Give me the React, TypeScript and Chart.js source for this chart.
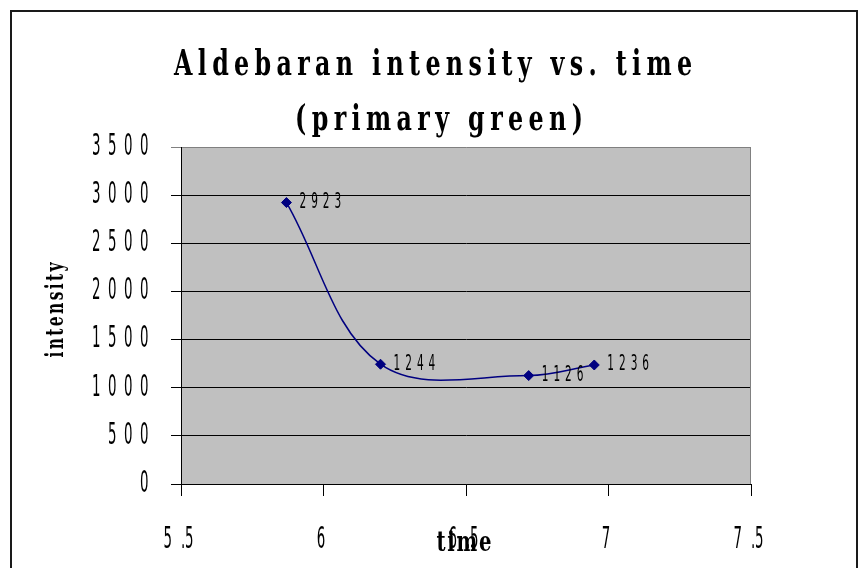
import React, { useEffect, useRef } from 'react';
import { Chart, registerables } from 'chart.js';

Chart.register(...registerables);

// ---- data ----
const timeValues: number[] = [5.87, 6.2, 6.72, 6.95];
const intensityValues: number[] = [2923, 1244, 1126, 1236];
const xTickValues: number[] = [5.5, 6, 6.5, 7, 7.5];
const yTickValues: number[] = [0, 500, 1000, 1500, 2000, 2500, 3000, 3500];
const titleLines: string[] = ['Aldebaran intensity vs. time', '(primary green)'];
const xAxisTitle = 'time';
const yAxisTitle = 'intensity';

const NARROW = '"Liberation Sans Narrow", "DejaVu Sans Condensed", "Liberation Sans", sans-serif';
const SLAB = '"DejaVu Serif", "Liberation Serif", serif';

// draws text char by char, each glyph squeezed by sx, spread to fill targetWidth, centred on x
function drawSpread(
  ctx: CanvasRenderingContext2D,
  text: string,
  x: number,
  y: number,
  font: string,
  sx: number,
  targetWidth: number,
  rotate = 0
) {
  ctx.save();
  ctx.font = font;
  ctx.textAlign = 'left';
  ctx.textBaseline = 'alphabetic';
  ctx.fillStyle = '#000';
  const chars = Array.from(text);
  const widths = chars.map((c) => ctx.measureText(c).width * sx);
  const sum = widths.reduce((a, b) => a + b, 0);
  const gap = chars.length > 1 ? Math.max(0, (targetWidth - sum) / (chars.length - 1)) : 0;
  const total = sum + gap * (chars.length - 1);
  ctx.translate(x, y);
  if (rotate) ctx.rotate(rotate);
  let cx = -total / 2;
  chars.forEach((c, i) => {
    ctx.save();
    ctx.translate(cx, 0);
    ctx.scale(sx, 1);
    ctx.fillText(c, 0, 0);
    ctx.restore();
    cx += widths[i] + gap;
  });
  ctx.restore();
}

function drawSpaced(
  ctx: CanvasRenderingContext2D,
  text: string,
  x: number,
  y: number,
  font: string,
  digitAdvance: number,
  spacing: number,
  align: 'left' | 'center' | 'right'
) {
  ctx.save();
  ctx.font = font;
  ctx.textAlign = 'left';
  ctx.textBaseline = 'middle';
  ctx.fillStyle = '#000';
  const sx = digitAdvance / ctx.measureText('0').width;
  const chars = Array.from(text);
  const widths = chars.map((c) => ctx.measureText(c).width * sx);
  const gaps = chars.map((c, i) => (i === chars.length - 1 ? 0 : c === '.' ? 0 : spacing));
  const total = widths.reduce((a, b) => a + b, 0) + gaps.reduce((a, b) => a + b, 0);
  let cx = align === 'left' ? x : align === 'center' ? x - total / 2 : x - total;
  chars.forEach((c, i) => {
    ctx.save();
    ctx.translate(cx, y);
    ctx.scale(sx, 1);
    ctx.fillText(c, 0, 0);
    ctx.restore();
    cx += widths[i] + gaps[i];
  });
  ctx.restore();
}

const decorPlugin = {
  id: 'decor',
  beforeDraw(chart: any) {
    const { ctx, chartArea: a } = chart;
    ctx.save();
    ctx.fillStyle = '#ffffff';
    ctx.fillRect(0, 0, chart.width, chart.height);
    ctx.fillStyle = '#C0C0C0';
    ctx.fillRect(a.left, a.top, a.right - a.left, a.bottom - a.top);
    ctx.restore();
  },
  beforeDatasetsDraw(chart: any) {
    const { ctx, chartArea: a } = chart;
    ctx.save();
    ctx.strokeStyle = '#808080';
    ctx.lineWidth = 1;
    ctx.beginPath();
    ctx.moveTo(Math.round(a.right) - 0.5, a.top);
    ctx.lineTo(Math.round(a.right) - 0.5, a.bottom);
    ctx.stroke();
    ctx.restore();
  },
  afterDraw(chart: any) {
    const { ctx } = chart;
    // outer chart border
    ctx.save();
    ctx.strokeStyle = '#1a1a1a';
    ctx.lineWidth = 2;
    ctx.strokeRect(11, 11, 846, 620);
    ctx.restore();

    // title
    drawSpread(ctx, titleLines[0], 433, 75, `bold 36px ${SLAB}`, 0.66, 518);
    drawSpread(ctx, titleLines[1], 439, 130, `bold 36px ${SLAB}`, 0.66, 288);

    // y tick labels
    const ys = chart.scales.y;
    ys.ticks.forEach((t: any) => {
      const py = ys.getPixelForValue(t.value);
      drawSpaced(ctx, String(t.value), 148.5, py, `30px ${NARROW}`, 8.5, 7.5, 'right');
    });
    // x tick labels
    const xs = chart.scales.x;
    xs.ticks.forEach((t: any) => {
      const px = xs.getPixelForValue(t.value);
      drawSpaced(ctx, String(t.value), px - 2.5, 540, `30px ${NARROW}`, 8.5, 9, 'center');
    });

    // axis titles
    drawSpread(ctx, yAxisTitle, 63, 310, `bold 25px ${SLAB}`, 0.62, 95, -Math.PI / 2);
    drawSpread(ctx, xAxisTitle, 464, 551, `bold 28px ${SLAB}`, 0.7, 55);

    // data labels
    const meta = chart.getDatasetMeta(0);
    meta.data.forEach((el: any, i: number) => {
      drawSpaced(ctx, String(intensityValues[i]), el.x + 13, el.y, `21px ${NARROW}`, 6.7, 5, 'left');
    });
  },
};

export default function App() {
  const canvasRef = useRef<HTMLCanvasElement | null>(null);

  useEffect(() => {
    const canvas = canvasRef.current;
    if (!canvas) return;
    const chart = new Chart(canvas, {
      type: 'scatter',
      data: {
        datasets: [
          {
            label: 'intensity',
            data: timeValues.map((t, i) => ({ x: t, y: intensityValues[i] })),
            showLine: true,
            borderColor: '#000080',
            backgroundColor: '#000080',
            borderWidth: 1.5,
            tension: 0.36,
            pointStyle: 'rectRot',
            pointRadius: 5,
            pointHoverRadius: 5,
            pointBackgroundColor: '#000080',
            pointBorderColor: '#000080',
            pointBorderWidth: 1,
          },
        ],
      },
      options: {
        responsive: false,
        animation: false,
        layout: { padding: { left: 0, top: 147, right: 110, bottom: 0 } },
        plugins: {
          legend: { display: false },
          tooltip: { enabled: false },
          title: { display: false },
        },
        scales: {
          x: {
            type: 'linear',
            min: xTickValues[0],
            max: xTickValues[xTickValues.length - 1],
            afterBuildTicks: (scale: any) => {
              scale.ticks = xTickValues.map((v) => ({ value: v }));
            },
            ticks: { display: false },
            grid: {
              display: true,
              drawOnChartArea: false,
              drawTicks: true,
              tickLength: 12,
              tickColor: '#000',
            },
            border: { display: true, color: '#000', width: 1 },
            afterFit: (scale: any) => {
              scale.height = 84;
            },
          },
          y: {
            type: 'linear',
            min: yTickValues[0],
            max: yTickValues[yTickValues.length - 1],
            afterBuildTicks: (scale: any) => {
              scale.ticks = yTickValues.map((v) => ({ value: v }));
            },
            ticks: { display: false },
            grid: {
              display: true,
              drawOnChartArea: true,
              drawTicks: true,
              tickLength: 10,
              color: (c: any) => (c.tick && c.tick.value === 3500 ? '#808080' : '#000'),
              tickColor: (c: any) => (c.tick && c.tick.value === 3500 ? '#808080' : '#000'),
              lineWidth: 1,
            },
            border: { display: true, color: '#000', width: 1 },
            afterFit: (scale: any) => {
              scale.width = 181;
            },
          },
        },
      } as any,
      plugins: [decorPlugin],
    });
    return () => {
      chart.destroy();
    };
  }, []);

  return (
    <div style={{ position: 'fixed', left: 0, top: 0, width: 861, height: 568, background: '#fff' }}>
      <canvas ref={canvasRef} width={861} height={568} style={{ display: 'block', width: 861, height: 568 }} />
    </div>
  );
}
